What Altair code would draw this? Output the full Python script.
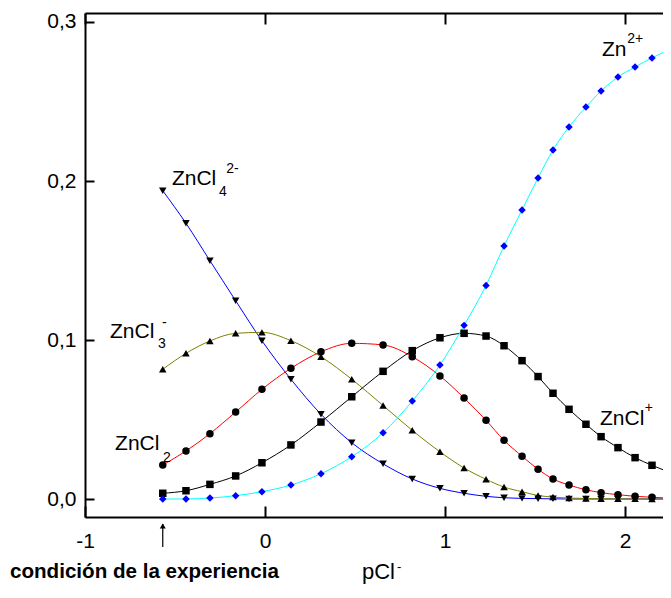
import altair as alt
import pandas as pd

# ---- data ----
pcl = [-0.568, -0.439, -0.306, -0.163, -0.017, 0.144, 0.311, 0.482, 0.656, 0.818,
       0.972, 1.106, 1.228, 1.328, 1.428, 1.517, 1.600, 1.689, 1.783, 1.867,
       1.961, 2.056, 2.150, 2.239]
zn = [0.000, 0.000, 0.0006, 0.0021, 0.0046, 0.0088, 0.0159, 0.0266, 0.0417, 0.0616,
      0.0843, 0.1092, 0.1343, 0.1591, 0.1818, 0.2019, 0.2195, 0.2340, 0.2465, 0.2566,
      0.2654, 0.2717, 0.2774, 0.2824]
zncl = [0.0036, 0.0052, 0.0092, 0.0145, 0.0228, 0.0340, 0.0484, 0.0643, 0.0803, 0.0933,
        0.1014, 0.1042, 0.1025, 0.0964, 0.0870, 0.0770, 0.0665, 0.0564, 0.0470, 0.0392,
        0.0323, 0.0260, 0.0212, 0.0172]
zncl2 = [0.0214, 0.0302, 0.0411, 0.0547, 0.0690, 0.0822, 0.0926, 0.0979, 0.0969, 0.0895,
         0.0774, 0.0635, 0.0495, 0.0369, 0.0269, 0.0187, 0.0126, 0.0088, 0.0058, 0.0040,
         0.0027, 0.0017, 0.0011, 0.0006]
zncl3 = [0.0816, 0.0916, 0.0994, 0.1042, 0.1048, 0.0996, 0.0895, 0.0753, 0.0588, 0.0432,
         0.0297, 0.0195, 0.0124, 0.0075, 0.0046, 0.0022, 0.0012, 0.0006, 0.0003, 0.0002,
         0.0001, 0.0001, 0.0000, 0.0000]
zncl4 = [0.1939, 0.1734, 0.1499, 0.1247, 0.0995, 0.0753, 0.0533, 0.0354, 0.0221, 0.0126,
         0.0067, 0.0036, 0.0017, 0.0008, 0.0004, 0.0002, 0.0001, 0.0000, 0.0000, 0.0000,
         0.0000, 0.0000, 0.0000, 0.0000]

species = ["ZnCl4", "ZnCl3", "ZnCl2", "ZnCl", "Zn"]
series = [zncl4, zncl3, zncl2, zncl, zn]

x_ticks = [-1, 0, 1, 2]
y_ticks = [0.0, 0.1, 0.2, 0.3]

label_text = ["ZnCl", "ZnCl", "ZnCl", "Zn", "ZnCl"]
label_x = [-0.517, -0.861, -0.833, 1.872, 1.861]
label_y = [0.1975, 0.1013, 0.0308, 0.2786, 0.0465]
script_text = ["4", "2-", "3", "-", "2", "2+", "+"]
script_x = [-0.256, -0.215, -0.594, -0.572, -0.567, 2.012, 2.110]
script_y = [0.1906, 0.2050, 0.0950, 0.1082, 0.0233, 0.2868, 0.0547]

exp_condition = [pcl[0]]

# ---- styling ----
line_colors = ["#0000ff", "#808000", "#ff0000", "#000000", "#00ffff"]
marker_shapes = ["triangle-down", "triangle-up", "circle", "square", "diamond"]
marker_fills = ["#000000", "#000000", "#000000", "#000000", "#0000ff"]
marker_sizes = [56, 56, 50, 46, 80]
FONT = "Liberation Sans"

rows = []
for name, vals in zip(species, series):
    for xv, yv in zip(pcl, vals):
        rows.append({"species": name, "pCl": xv, "frac": yv})
df = pd.DataFrame(rows)

labels_df = pd.DataFrame({"t": label_text, "x": label_x, "y": label_y})
scripts_df = pd.DataFrame({"t": script_text, "x": script_x, "y": script_y})
arrow_df = pd.DataFrame({"x": exp_condition})
one_df = pd.DataFrame({"a": [0]})

W, H = 578, 504
xscale = alt.Scale(domain=[-1, -1 + W / 180.0], nice=False, zero=False)
yscale = alt.Scale(domain=[-0.01132, 0.30566], nice=False, zero=False)

ax_x_main = alt.Axis(orient="bottom", values=x_ticks, domain=True, domainWidth=2, domainColor="black",
                     ticks=False, tickSize=0, labels=True, labelPadding=13, labelFontSize=21,
                     labelFont=FONT, labelColor="black", labelExpr="toString(datum.value)",
                     labelFlush=False, labelOverlap=False, grid=False, title=None)
ax_y_main = alt.Axis(orient="left", values=y_ticks, domain=True, domainWidth=2, domainColor="black",
                     ticks=False, tickSize=0, labels=True, labelPadding=9, labelFontSize=21,
                     labelFont=FONT, labelColor="black", labelFlush=False, labelOverlap=False,
                     labelExpr="replace(format(datum.value, '.1f'), '.', ',')",
                     grid=False, title=None)
ax_x_ticks = alt.Axis(orient="bottom", offset=-11, values=x_ticks, domain=False, labels=False,
                      ticks=True, tickSize=11, tickWidth=2, tickColor="black", grid=False, title=None)
ax_y_ticks = alt.Axis(orient="left", offset=-9, values=y_ticks, domain=False, labels=False,
                      ticks=True, tickSize=9, tickWidth=2, tickColor="black", grid=False, title=None)
ax_top_line = alt.Axis(orient="top", values=x_ticks, domain=True, domainWidth=2, domainColor="black",
                       ticks=False, tickSize=0, labels=False, grid=False, title=None)
ax_top_ticks = alt.Axis(orient="top", offset=-11, values=x_ticks, domain=False, labels=False,
                        ticks=True, tickSize=11, tickWidth=2, tickColor="black", grid=False, title=None)

lines = alt.Chart(df).mark_line(strokeWidth=1, interpolate="monotone", clip=True).encode(
    x=alt.X("pCl:Q", scale=xscale, axis=ax_x_main),
    y=alt.Y("frac:Q", scale=yscale, axis=ax_y_main),
    color=alt.Color("species:N", scale=alt.Scale(domain=species, range=line_colors), legend=None),
)

points = alt.Chart(df).mark_point(filled=True, opacity=1, clip=True).encode(
    x=alt.X("pCl:Q", scale=xscale, axis=ax_x_ticks),
    y=alt.Y("frac:Q", scale=yscale, axis=ax_y_ticks),
    shape=alt.Shape("species:N", scale=alt.Scale(domain=species, range=marker_shapes), legend=None),
    fill=alt.Fill("species:N", scale=alt.Scale(domain=species, range=marker_fills), legend=None),
    size=alt.Size("species:N", scale=alt.Scale(domain=species, range=marker_sizes), legend=None),
)

labels = alt.Chart(labels_df).mark_text(align="left", baseline="alphabetic", font=FONT,
                                         fontSize=21, color="black").encode(
    x=alt.X("x:Q", scale=xscale, axis=ax_top_line),
    y=alt.Y("y:Q", scale=yscale, axis=None),
    text="t:N",
)

scripts = alt.Chart(scripts_df).mark_text(align="left", baseline="alphabetic", font=FONT,
                                           fontSize=14, color="black").encode(
    x=alt.X("x:Q", scale=xscale, axis=None),
    y=alt.Y("y:Q", scale=yscale, axis=None),
    text="t:N",
)

arrow_shaft = alt.Chart(arrow_df).mark_rule(color="black", strokeWidth=1.2).encode(
    x=alt.X("x:Q", scale=xscale, axis=ax_top_ticks),
    y=alt.value(511), y2=alt.value(534),
)
arrow_head = alt.Chart(arrow_df).mark_point(shape="triangle-up", filled=True, color="black",
                                             opacity=1, size=36).encode(
    x=alt.X("x:Q", scale=xscale, axis=None),
    y=alt.value(513),
)

cond_text = alt.Chart(one_df).mark_text(align="left", baseline="alphabetic", font=FONT,
                                         fontSize=20.6, fontWeight="bold", color="black").encode(
    x=alt.value(-75), y=alt.value(565), text=alt.value("condición de la experiencia"),
)
title_main = alt.Chart(one_df).mark_text(align="left", baseline="alphabetic", font=FONT,
                                          fontSize=22, color="black").encode(
    x=alt.value(277), y=alt.value(566), text=alt.value("pCl"),
)
title_sup = alt.Chart(one_df).mark_text(align="left", baseline="alphabetic", font=FONT,
                                         fontSize=13, color="black").encode(
    x=alt.value(312), y=alt.value(558), text=alt.value("-"),
)

chart = alt.layer(
    lines, points, labels, scripts, arrow_shaft, arrow_head, cond_text, title_main, title_sup
).resolve_axis(x="independent", y="independent").properties(
    width=W, height=H,
    autosize=alt.AutoSizeParams(type="none"),
    padding={"left": 77, "top": 5, "right": 0, "bottom": 67},
).configure_view(stroke=None)

chart.save("out.html", embed_options={"renderer": "svg", "actions": False})
